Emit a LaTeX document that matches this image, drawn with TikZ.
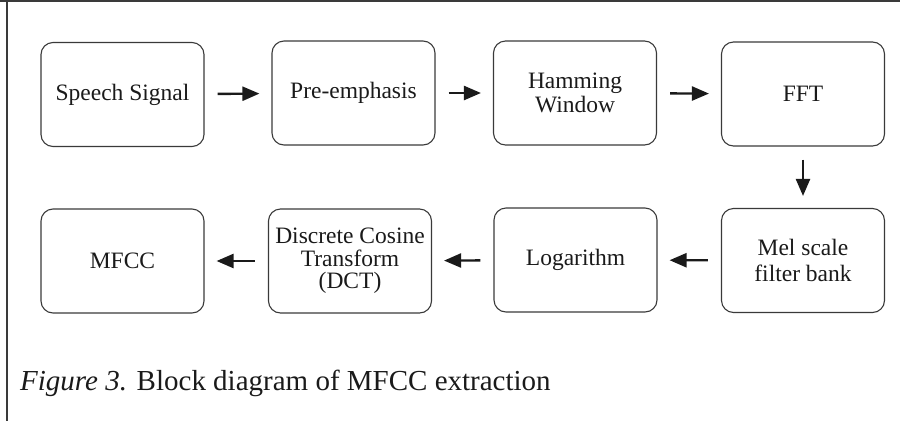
\documentclass[tikz,border=0pt]{standalone}
\usepackage{fontspec}
\setmainfont{Liberation Serif}
\usetikzlibrary{arrows.meta}
\definecolor{ink}{HTML}{1A1A1A}
\definecolor{frame}{HTML}{3A3A3A}
\tikzset{
  blk/.style={draw=frame, line width=1.1pt, rounded corners=12pt, minimum width=163pt, minimum height=104pt, inner sep=2pt, align=center, font=\fontsize{23.5}{25}\selectfont, text=ink},
  flow/.style={draw=ink, line width=2.4pt, -{Triangle[length=17pt,width=14pt]}, shorten <=13pt, shorten >=12pt}
}
\begin{document}
\begin{tikzpicture}[x=1pt,y=-1pt]
\useasboundingbox (0,0) rectangle (900,421);
\draw[frame, line width=1.8pt] (0,1) -- (900,1);
\draw[frame, line width=1.8pt] (7.2,0) -- (7.2,421);
\node[blk] (s) at (122.5,94.5) {Speech Signal};
\node[blk] (p) at (353.5,93) {Pre-emphasis};
\node[blk, font=\fontsize{23.5}{24.5}\selectfont] (h) at (575,93) {Hamming\\Window};
\node[blk] (f) at (803,94) {FFT};
\node[blk, font=\fontsize{23.5}{26}\selectfont] (m) at (803,260.5) {Mel scale\\filter bank};
\node[blk] (l) at (575.5,260) {Logarithm};
\node[blk, font=\fontsize{23.5}{22.5}\selectfont] (d) at (350,261) {Discrete Cosine\\Transform\\(DCT)};
\node[blk] (c) at (122.5,261) {MFCC};
\draw[flow] (s) -- (p);
\draw[flow] (p) -- (h);
\draw[flow] (h) -- (f);
\draw[flow] (f) -- (m);
\draw[flow] (m) -- (l);
\draw[flow] (l) -- (d);
\draw[flow] (d) -- (c);
\node[anchor=base west, inner sep=0pt, text=ink, font=\fontsize{29}{30}\selectfont] (cap) at (20,390) {\textit{Figure 3.} Block diagram of MFCC extraction};
\end{tikzpicture}
\end{document}
